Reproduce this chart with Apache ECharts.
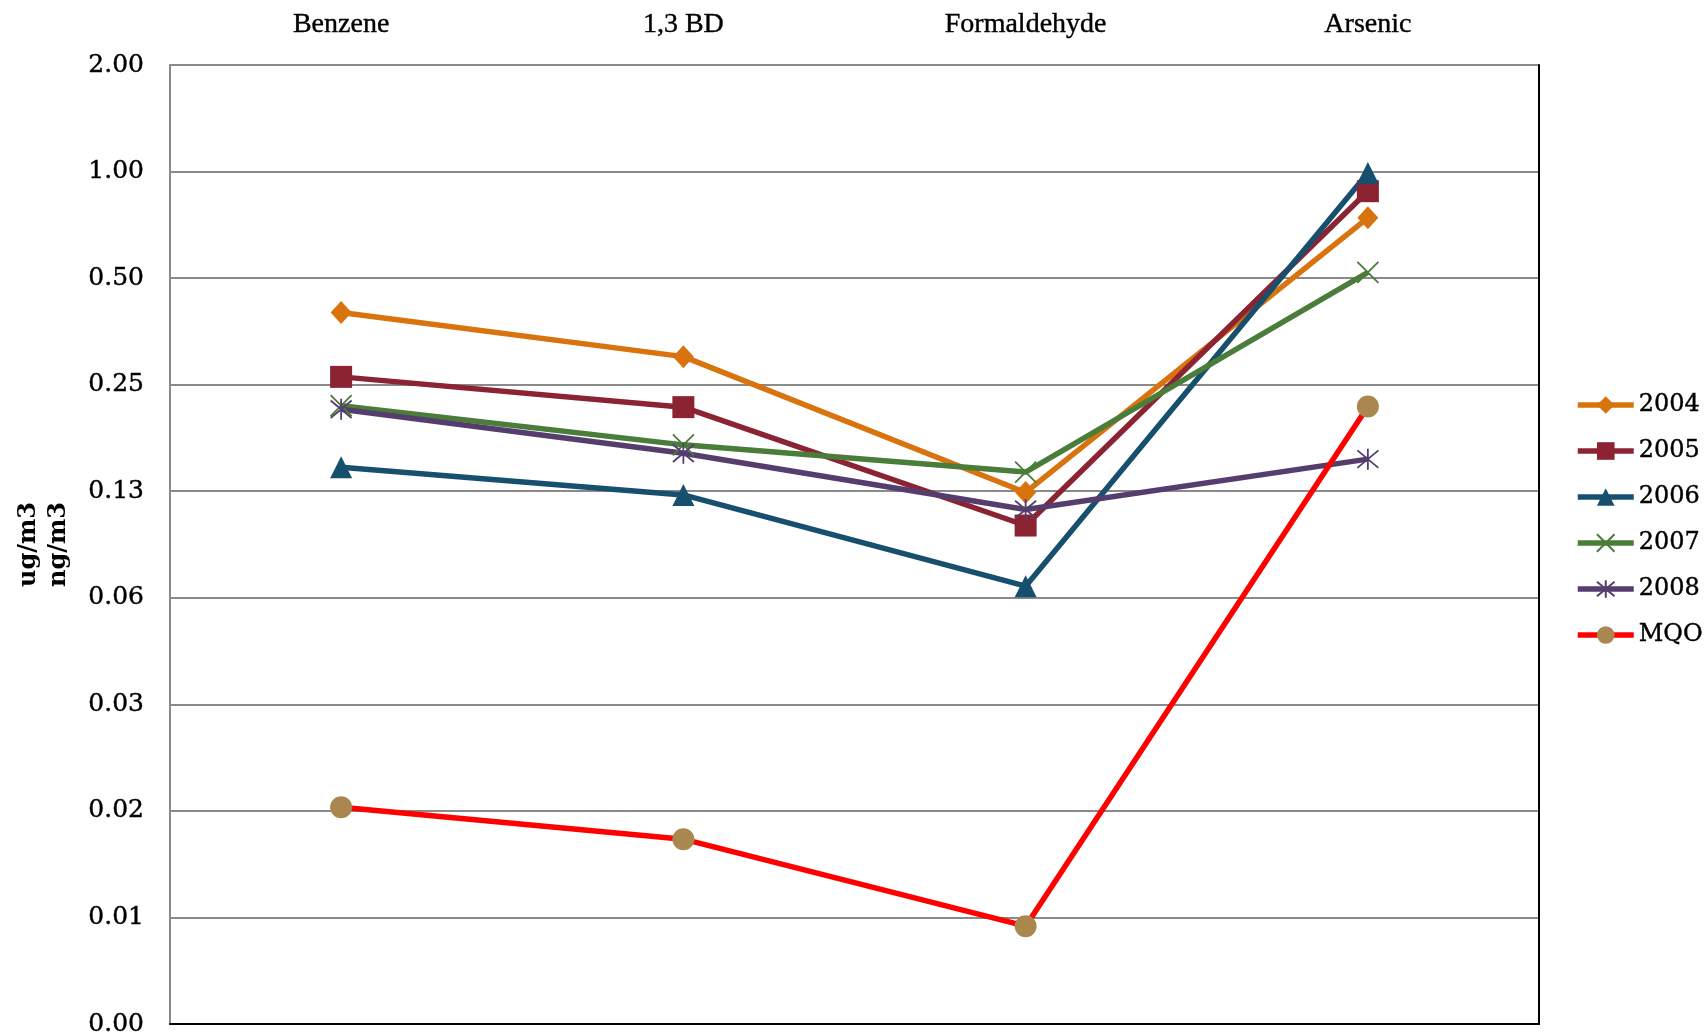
<!DOCTYPE html>
<html>
<head>
<meta charset="utf-8">
<script src="https://cdn.jsdelivr.net/npm/echarts@6/dist/echarts.min.js"></script>
<style>
  html, body { margin: 0; padding: 0; background: #ffffff; }
  #chart { width: 1707px; height: 1036px; }
</style>
</head>
<body>
<div id="chart"></div>
<script>
// Pollutant categories along the top axis
const categories = ['Benzene', '1,3 BD', 'Formaldehyde', 'Arsenic'];

// Annual means per pollutant (ug/m3, arsenic in ng/m3)
const y2004 = [0.400, 0.300, 0.124, 0.740];
const y2005 = [0.263, 0.216, 0.100, 0.880];
const y2006 = [0.146, 0.122, 0.0674, 0.990];
const y2007 = [0.218, 0.169, 0.1416, 0.519];
const y2008 = [0.213, 0.160, 0.111, 0.154];
const mqo   = [0.0160, 0.0130, 0.00738, 0.217];

// Log-2 axis range
const yMin = 0.00390625;
const yMax = 2;

const serif = 'DejaVu Serif';
const catFont = 'Liberation Serif';

const chart = echarts.init(document.getElementById('chart'), null, { renderer: 'canvas' });

function lineSeries(name, data, color, symbol, size, thin) {
  return {
    name: name,
    type: 'line',
    data: data,
    xAxisIndex: 0,
    yAxisIndex: 0,
    symbol: symbol,
    symbolSize: size,
    showSymbol: true,
    lineStyle: { color: color, width: 5.5 },
    itemStyle: thin
      ? { color: color, borderColor: color, borderWidth: 1.8 }
      : { color: color, borderWidth: 0 },
    emphasis: { disabled: true },
    z: 3
  };
}

const option = {
  animation: false,
  backgroundColor: '#ffffff',
  grid: { left: 170, right: 168, top: 65, bottom: 12, containLabel: false, outerBoundsMode: 'none' },
  legend: {
    orient: 'vertical',
    left: 1570,
    top: 387,
    itemWidth: 56,
    itemHeight: 22,
    itemGap: 20,
    lineStyle: { width: 5.5 },
    textStyle: {
      fontFamily: serif, fontSize: 24, color: '#000', lineHeight: 26,
      textBorderColor: '#000', textBorderWidth: 0.4, padding: [0, 0, 0, 0]
    },
    data: ['2004', '2005', '2006', '2007', '2008', 'MQO']
  },
  xAxis: [
    {
      type: 'category',
      data: categories,
      position: 'top',
      boundaryGap: true,
      axisLine: { show: false },
      axisTick: { show: false },
      axisLabel: {
        fontFamily: catFont, fontSize: 28, color: '#000', margin: 26,
        textBorderColor: '#000', textBorderWidth: 0.4
      },
      splitLine: { show: false }
    },
    {
      type: 'category',
      data: categories,
      position: 'bottom',
      boundaryGap: true,
      axisLine: { show: true, lineStyle: { color: '#000', width: 2 } },
      axisTick: { show: false },
      axisLabel: { show: false },
      splitLine: { show: false }
    }
  ],
  yAxis: [
    {
      type: 'log',
      logBase: 2,
      min: yMin,
      max: yMax,
      interval: 1,
      position: 'left',
      name: 'ug/m3\nng/m3',
      nameLocation: 'middle',
      nameRotate: 90,
      nameGap: 96,
      nameTextStyle: { fontFamily: serif, fontSize: 24, fontWeight: 'bold', color: '#000', lineHeight: 30 },
      axisLine: { show: true, lineStyle: { color: '#8a8a8a', width: 2 } },
      axisTick: { show: false },
      axisLabel: {
        fontFamily: serif,
        fontSize: 25,
        color: '#000',
        margin: 26,
        textBorderColor: '#000',
        textBorderWidth: 0.4,
        formatter: function (v) {
          const p = Math.round(Math.log2(v));
          return Math.pow(2, p).toFixed(2);
        }
      },
      splitLine: { show: true, lineStyle: { color: '#8a8a8a', width: 2 } }
    },
    {
      type: 'log',
      logBase: 2,
      min: yMin,
      max: yMax,
      interval: 1,
      position: 'right',
      axisLine: { show: true, lineStyle: { color: '#000', width: 2 } },
      axisTick: { show: false },
      axisLabel: { show: false },
      splitLine: { show: false }
    }
  ],
  series: [
    lineSeries('2004', y2004, '#d9730d', 'diamond', [21, 23], false),
    lineSeries('2005', y2005, '#8b2332', 'rect', [22, 22], false),
    lineSeries('2006', y2006, '#17506e', 'triangle', [22, 22], false),
    lineSeries('2007', y2007, '#4a7c3a', 'path://M0,0L10,10M10,0L0,10', [21, 21], true),
    lineSeries('2008', y2008, '#553e6e', 'path://M0,0L10,10M10,0L0,10M5,-1L5,11', [21, 21], true),
    {
      name: 'MQO',
      type: 'line',
      data: mqo,
      symbol: 'circle',
      symbolSize: 22,
      lineStyle: { color: '#ff0000', width: 5.5 },
      itemStyle: { color: '#a9874f', borderWidth: 0 },
      emphasis: { disabled: true },
      z: 3
    }
  ]
};

chart.setOption(option);
</script>
</body>
</html>
